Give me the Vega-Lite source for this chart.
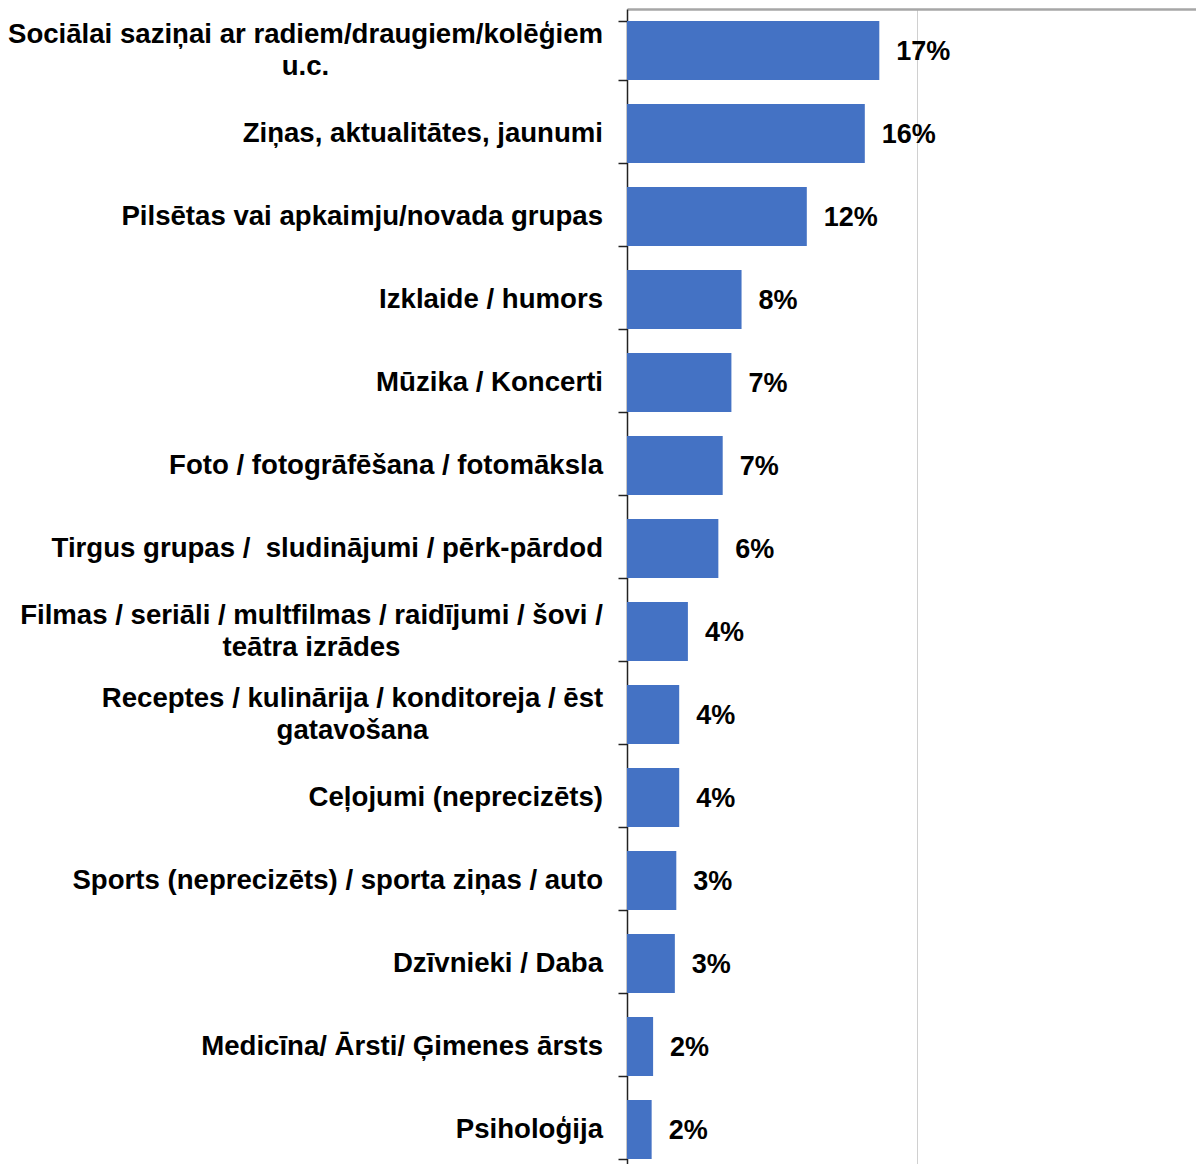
{
  "$schema": "https://vega.github.io/schema/vega-lite/v6.json",
  "autosize": "none",
  "width": 569,
  "height": 1155,
  "padding": {"left": 627, "top": 9, "right": 0, "bottom": 0},
  "background": "white",
  "config": {
    "view": {"stroke": null},
    "font": "Liberation Sans"
  },
  "data": {
    "values": [
      {"cat": "Sociālai saziņai ar radiem/draugiem/kolēģiem|u.c.", "v": 0.174},
      {"cat": "Ziņas, aktualitātes, jaunumi", "v": 0.164},
      {"cat": "Pilsētas vai apkaimju/novada grupas", "v": 0.124},
      {"cat": "Izklaide / humors", "v": 0.079},
      {"cat": "Mūzika / Koncerti", "v": 0.072},
      {"cat": "Foto / fotogrāfēšana / fotomāksla", "v": 0.066},
      {"cat": "Tirgus grupas /\u00a0 sludinājumi / pērk-pārdod", "v": 0.063},
      {"cat": "Filmas / seriāli / multfilmas / raidījumi / šovi /|teātra izrādes", "v": 0.042},
      {"cat": "Receptes / kulinārija / konditoreja / ēst|gatavošana", "v": 0.036},
      {"cat": "Ceļojumi (neprecizēts)", "v": 0.036},
      {"cat": "Sports (neprecizēts) / sporta ziņas / auto", "v": 0.034},
      {"cat": "Dzīvnieki / Daba", "v": 0.033},
      {"cat": "Medicīna/ Ārsti/ Ģimenes ārsts", "v": 0.018},
      {"cat": "Psiholoģija", "v": 0.017}
    ]
  },
  "encoding": {
    "y": {
      "field": "cat",
      "type": "nominal",
      "sort": null,
      "scale": {"range": [0, 1162], "paddingInner": 0.29, "paddingOuter": 0.145},
      "axis": {
        "title": null,
        "labels": false,
        "tickBand": "extent",
        "tickSize": 9,
        "tickColor": "#222222",
        "tickWidth": 1.5,
        "domainColor": "#222222",
        "domainWidth": 1.5,
        "grid": false
      }
    },
    "x": {
      "field": "v",
      "type": "quantitative",
      "scale": {"domain": [0, 0.3924], "nice": false, "zero": true},
      "axis": {
        "orient": "top",
        "title": null,
        "labels": false,
        "ticks": false,
        "values": [0.2],
        "grid": true,
        "gridColor": "#d0d0d0",
        "gridWidth": 1,
        "domainColor": "#a6a6a6",
        "domainWidth": 2.5
      }
    }
  },
  "layer": [
    {"mark": {"type": "bar", "color": "#4472C4"}},
    {
      "mark": {"type": "text", "align": "left", "baseline": "middle", "dx": 17, "dy": 1, "fontSize": 27, "fontWeight": "bold", "font": "Liberation Sans", "color": "#000000"},
      "encoding": {"text": {"field": "v", "type": "quantitative", "format": ".0%"}}
    },
    {
      "transform": [{"filter": "indexof(datum.cat, '|') < 0"}],
      "mark": {"type": "text", "align": "right", "baseline": "middle", "dx": -24, "fontSize": 27.6, "fontWeight": "bold", "font": "Liberation Sans", "color": "#000000", "lineBreak": "|", "lineHeight": 32},
      "encoding": {"x": {"datum": 0}, "text": {"field": "cat", "type": "nominal"}}
    },
    {
      "transform": [{"filter": {"field": "cat", "equal": "Sociālai saziņai ar radiem/draugiem/kolēģiem|u.c."}}],
      "mark": {"type": "text", "align": "center", "baseline": "middle", "dx": -321.5, "dy": -16, "fontSize": 27.6, "fontWeight": "bold", "font": "Liberation Sans", "color": "#000000", "lineBreak": "|", "lineHeight": 32},
      "encoding": {"x": {"datum": 0}, "text": {"field": "cat", "type": "nominal"}}
    },
    {
      "transform": [{"filter": {"field": "cat", "equal": "Filmas / seriāli / multfilmas / raidījumi / šovi /|teātra izrādes"}}],
      "mark": {"type": "text", "align": "center", "baseline": "middle", "dx": -315.5, "dy": -16, "fontSize": 27.6, "fontWeight": "bold", "font": "Liberation Sans", "color": "#000000", "lineBreak": "|", "lineHeight": 32},
      "encoding": {"x": {"datum": 0}, "text": {"field": "cat", "type": "nominal"}}
    },
    {
      "transform": [{"filter": {"field": "cat", "equal": "Receptes / kulinārija / konditoreja / ēst|gatavošana"}}],
      "mark": {"type": "text", "align": "center", "baseline": "middle", "dx": -274.5, "dy": -16, "fontSize": 27.6, "fontWeight": "bold", "font": "Liberation Sans", "color": "#000000", "lineBreak": "|", "lineHeight": 32},
      "encoding": {"x": {"datum": 0}, "text": {"field": "cat", "type": "nominal"}}
    }
  ]
}
